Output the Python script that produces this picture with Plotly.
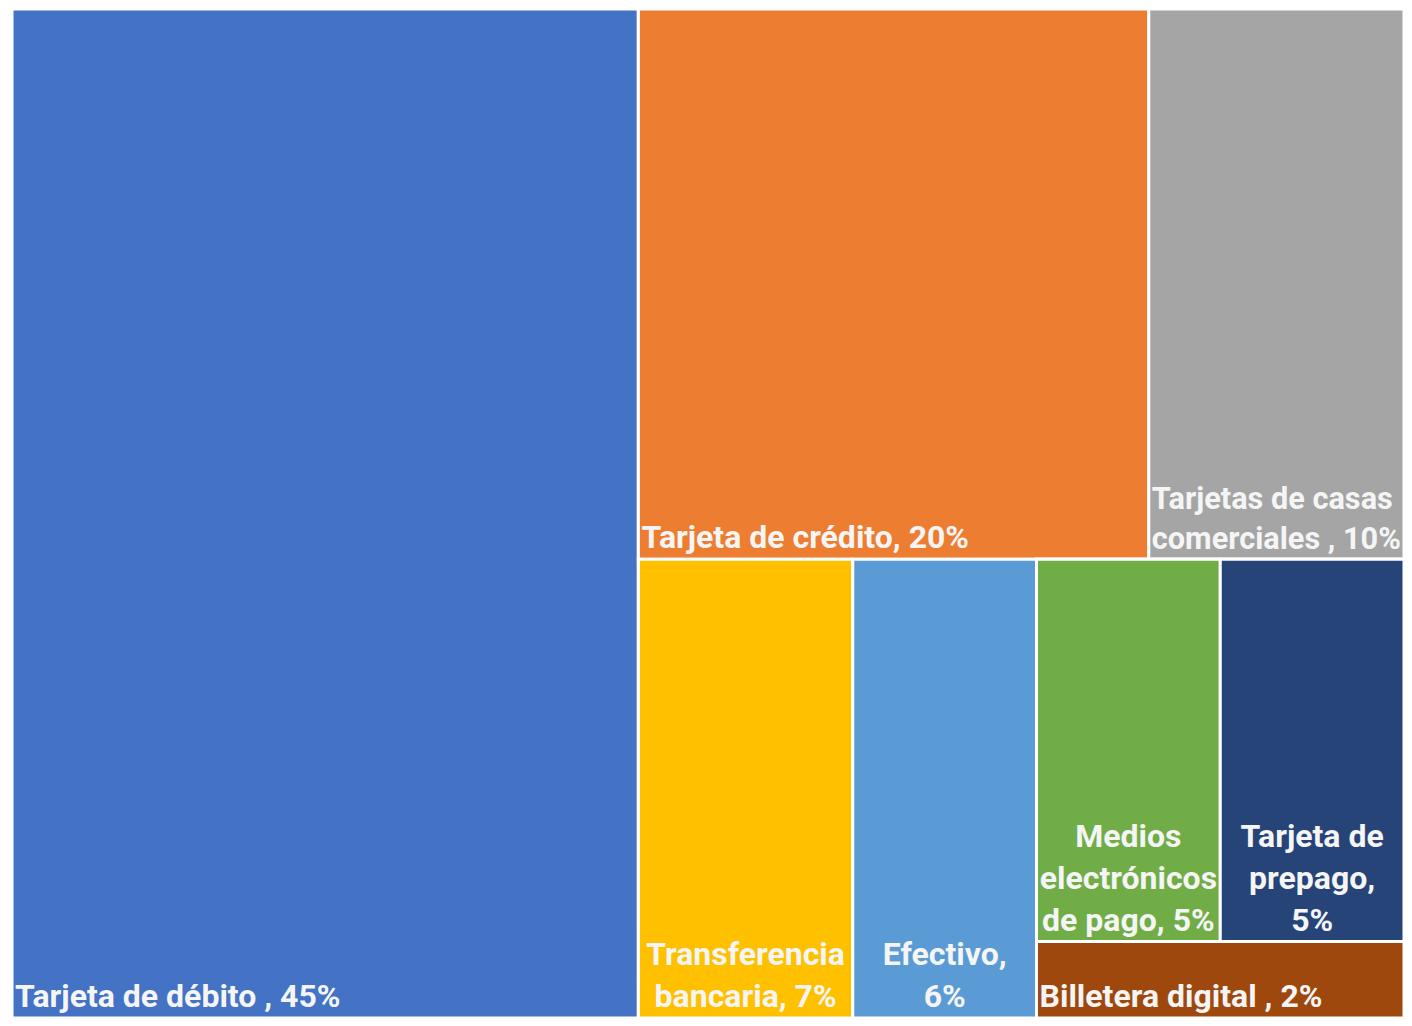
import plotly.graph_objects as go

# Data
ids = ["Total", "Débito", "Resto", "Arriba", "Crédito", "Casas", "Abajo",
       "Transferencia", "Efectivo", "G3", "G4", "Medios", "Prepago", "Billetera"]
parents = ["", "Total", "Total", "Resto", "Arriba", "Arriba", "Resto",
           "Abajo", "Abajo", "Abajo", "G3", "G4", "G4", "G3"]
labels = ["", "Tarjeta de débito , 45%", "", "", "Tarjeta de crédito, 20%",
          "Tarjetas de casas<br>comerciales , 10%", "",
          "Transferencia<br>bancaria, 7%", "Efectivo,<br>6%", "", "",
          "Medios<br>electrónicos<br>de pago, 5%", "Tarjeta de<br>prepago,<br>5%",
          "Billetera digital , 2%"]
values = [0, 45, 0, 0, 20, 10, 0, 7, 6, 0, 0, 5, 5, 2]
colors = ["#FFFFFF", "#4472C4", "#FFFFFF", "#FFFFFF", "#ED7D31", "#A5A5A5", "#FFFFFF",
          "#FFC000", "#5B9BD5", "#FFFFFF", "#FFFFFF", "#70AD47", "#264478", "#9E480E"]
centered = ["Transferencia", "Efectivo", "Medios", "Prepago"]

FONT = "Roboto"

common = dict(
    ids=ids, parents=parents, labels=labels, values=values,
    branchvalues="remainder", sort=False,
    tiling=dict(packing="slice-dice", pad=0),
    pathbar=dict(visible=False), hoverinfo="skip",
)

left_tmpl = [("%{label}" if (l and i not in centered) else "") for i, l in zip(ids, labels)]
center_tmpl = [("%{label}" if (l and i in centered) else "") for i, l in zip(ids, labels)]

fig = go.Figure()
fig.add_trace(go.Treemap(
    **common,
    marker=dict(colors=colors, line=dict(color="#FFFFFF", width=3),
                pad=dict(t=0, l=0, r=0, b=0)),
    texttemplate=left_tmpl,
    textposition="bottom left",
    textfont=dict(family=FONT, size=32, color="#F5F5F5", weight="bold"),
))
fig.add_trace(go.Treemap(
    **common,
    marker=dict(colors=["rgba(0,0,0,0)"] * len(ids), line=dict(width=0),
                pad=dict(t=0, l=0, r=0, b=0)),
    texttemplate=center_tmpl,
    textposition="bottom center",
    textfont=dict(family=FONT, size=32, color="#F5F5F5", weight="bold"),
))

fig.update_layout(
    width=1396, height=1010,
    margin=dict(l=4, r=0, t=1, b=0),
    paper_bgcolor="#FFFFFF",
)

fig.write_html("out.html")
